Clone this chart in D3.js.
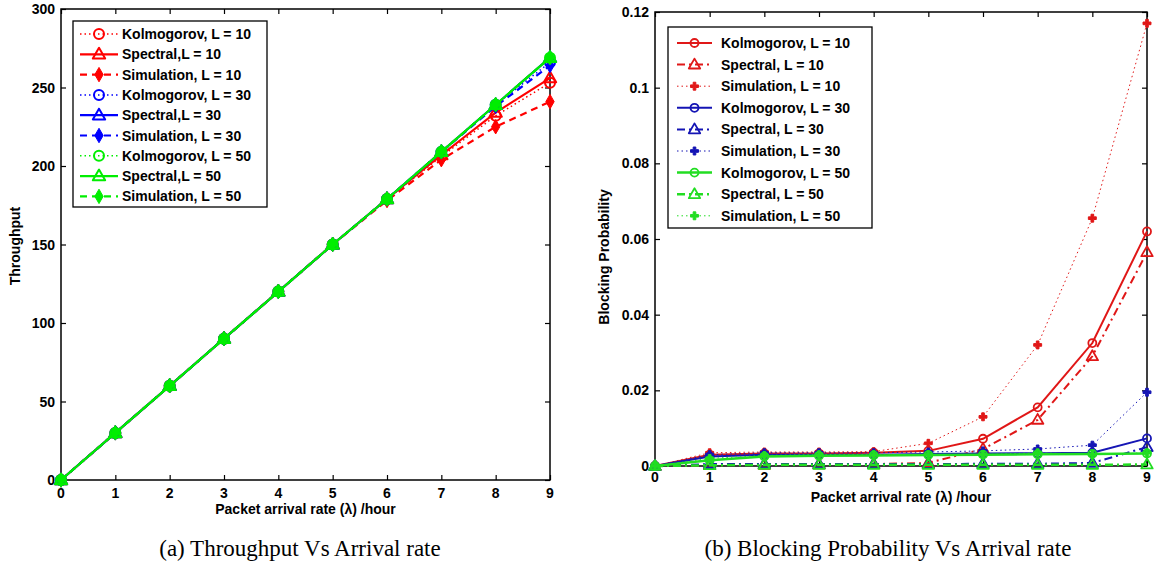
<!DOCTYPE html>
<html>
<head>
<meta charset="utf-8">
<script src="https://cdn.jsdelivr.net/npm/d3@7"></script>
<style>
  html, body { margin: 0; padding: 0; background: #fff; }
  svg { display: block; }
  .tick-label { font-family: "Liberation Sans", Arial, sans-serif; font-weight: bold; font-size: 14px; fill: #000; }
  .axis-title { font-family: "Liberation Sans", Arial, sans-serif; font-weight: bold; font-size: 14px; fill: #000; }
  .legend-text { font-family: "Liberation Sans", Arial, sans-serif; font-weight: bold; font-size: 14px; fill: #000; }
  .caption { font-family: "Liberation Serif", "DejaVu Serif", serif; font-size: 23px; fill: #000; }
</style>
</head>
<body>
<svg id="chart" width="1165" height="566"></svg>
<script>
// Arrival rate (packets per hour) shared by both panels
const arrivalRate = [0, 1, 2, 3, 4, 5, 6, 7, 8, 9];

// Panel (a): throughput
const thrKolmogorov10 = [0, 30, 60, 90, 120, 150, 179, 206, 232, 253];
const thrSpectral10   = [0, 30, 60, 90, 120, 150, 179, 207, 234, 256];
const thrSimulation10 = [0, 30, 60, 90, 120, 150, 178, 204, 225, 241];
const thrKolmogorov30 = [0, 30, 60, 90, 120, 150, 179, 209, 239, 266];
const thrSpectral30   = [0, 30, 60, 90, 120, 150, 179, 209, 239, 269];
const thrSimulation30 = [0, 30, 60, 90, 120, 150, 179, 209, 238, 264];
const thrKolmogorov50 = [0, 30, 60, 90, 120, 150, 179, 209, 239, 269];
const thrSpectral50   = [0, 30, 60, 90, 120, 150, 179, 209, 239, 269];
const thrSimulation50 = [0, 30, 60, 90, 120, 150, 179, 209, 239, 269];

// Panel (b): blocking probability
const bpKolmogorov10 = [0, 0.0030, 0.0033, 0.0033, 0.0035, 0.0040, 0.0072, 0.0155, 0.0325, 0.0620];
const bpSpectral10   = [0, 0.0002, 0.0003, 0.0004, 0.0005, 0.0008, 0.0045, 0.0122, 0.0290, 0.0565];
const bpSimulation10 = [0, 0.0035, 0.0037, 0.0037, 0.0038, 0.0060, 0.0130, 0.0320, 0.0655, 0.1170];
const bpKolmogorov30 = [0, 0.0025, 0.0030, 0.0030, 0.0030, 0.0032, 0.0033, 0.0034, 0.0035, 0.0073];
const bpSpectral30   = [0, 0.0005, 0.0005, 0.0005, 0.0005, 0.0005, 0.0006, 0.0006, 0.0008, 0.0050];
const bpSimulation30 = [0, 0.0030, 0.0035, 0.0035, 0.0035, 0.0037, 0.0040, 0.0045, 0.0055, 0.0195];
const bpKolmogorov50 = [0, 0.0015, 0.0025, 0.0027, 0.0028, 0.0029, 0.0030, 0.0031, 0.0032, 0.0033];
const bpSpectral50   = [0, 0.0002, 0.0003, 0.0003, 0.0003, 0.0003, 0.0003, 0.0003, 0.0003, 0.0004];
const bpSimulation50 = [0, 0.0020, 0.0028, 0.0030, 0.0030, 0.0030, 0.0030, 0.0035, 0.0030, 0.0035];

// Tick labels
const xTickLabels = ["0", "1", "2", "3", "4", "5", "6", "7", "8", "9"];
const thrTickValues = [0, 50, 100, 150, 200, 250, 300];
const thrTickLabels = ["0", "50", "100", "150", "200", "250", "300"];
const bpTickValues = [0, 0.02, 0.04, 0.06, 0.08, 0.1, 0.12];
const bpTickLabels = ["0", "0.02", "0.04", "0.06", "0.08", "0.1", "0.12"];

// Legend labels
const thrLegend = ["Kolmogorov, L = 10", "Spectral,L = 10", "Simulation, L = 10",
                   "Kolmogorov, L = 30", "Spectral,L = 30", "Simulation, L = 30",
                   "Kolmogorov, L = 50", "Spectral,L = 50", "Simulation, L = 50"];
const bpLegend = ["Kolmogorov, L = 10", "Spectral, L = 10", "Simulation, L = 10",
                  "Kolmogorov, L = 30", "Spectral, L = 30", "Simulation, L = 30",
                  "Kolmogorov, L = 50", "Spectral, L = 50", "Simulation, L = 50"];

const svg = d3.select("#chart");

function drawMarker(g, type, cx, cy, color, st) {
  if (type === "circle") {
    g.append("circle").attr("cx", cx).attr("cy", cy).attr("r", st.circleR)
      .attr("fill", "none").attr("stroke", color).attr("stroke-width", st.markerStroke);
  } else if (type === "triangle") {
    const s = st.triSize;
    const pts = [[cx, cy - s], [cx - s * 0.95, cy + s * 0.65], [cx + s * 0.95, cy + s * 0.65]];
    g.append("path").attr("d", "M" + pts.map(p => p.join(",")).join("L") + "Z")
      .attr("fill", "none").attr("stroke", color).attr("stroke-width", st.markerStroke)
      .attr("stroke-linejoin", "round");
  } else if (type === "dot") {
    g.append("path").attr("transform", `translate(${cx},${cy})`)
      .attr("d", d3.symbol().type(st.dotSymbol).size(st.dotSize)())
      .attr("fill", color).attr("stroke", color).attr("stroke-width", 1);
  }
}

function drawPanel(p) {
  const x = d3.scaleLinear().domain([0, 9]).range([p.left, p.right]);
  const y = d3.scaleLinear().domain(p.yDomain).range([p.bottom, p.top]);
  const g = svg.append("g");

  // frame with inward ticks on all four sides
  g.append("rect").attr("x", p.left).attr("y", p.top)
    .attr("width", p.right - p.left).attr("height", p.bottom - p.top)
    .attr("fill", "none").attr("stroke", "#000").attr("stroke-width", 1.5);

  const tl = 5;
  const xb = d3.axisBottom(x).tickValues(arrivalRate).tickSizeInner(-tl).tickSizeOuter(0).tickFormat("");
  const xt = d3.axisTop(x).tickValues(arrivalRate).tickSizeInner(-tl).tickSizeOuter(0).tickFormat("");
  const yl = d3.axisLeft(y).tickValues(p.yTicks).tickSizeInner(-tl).tickSizeOuter(0).tickFormat("");
  const yr = d3.axisRight(y).tickValues(p.yTicks).tickSizeInner(-tl).tickSizeOuter(0).tickFormat("");
  [[xb, `translate(0,${p.bottom})`], [xt, `translate(0,${p.top})`],
   [yl, `translate(${p.left},0)`], [yr, `translate(${p.right},0)`]].forEach(([ax, tr]) => {
    const a = g.append("g").attr("transform", tr).call(ax);
    a.select(".domain").remove();
    a.selectAll("line").attr("stroke", "#000").attr("stroke-width", 1.2);
  });

  // tick labels
  g.selectAll(".xl").data(arrivalRate).enter().append("text")
    .attr("class", "tick-label").attr("x", d => x(d)).attr("y", p.bottom + p.xLabelDy)
    .attr("text-anchor", "middle").text((d, i) => xTickLabels[i]);
  g.selectAll(".yl").data(p.yTicks).enter().append("text")
    .attr("class", "tick-label").attr("x", p.left - 6).attr("y", d => y(d) + 5)
    .attr("text-anchor", "end").text((d, i) => p.yLabels[i]);

  // axis titles
  g.append("text").attr("class", "axis-title")
    .attr("x", (p.left + p.right) / 2).attr("y", p.bottom + p.xTitleDy)
    .attr("text-anchor", "middle").text("Packet arrival rate (\u03bb) /hour");
  g.append("text").attr("class", "axis-title")
    .attr("transform", `translate(${p.yTitleX},${p.yTitleY}) rotate(-90)`)
    .attr("text-anchor", "middle").text(p.yTitle);

  // series
  const line = d3.line().x((d, i) => x(arrivalRate[i])).y(d => y(d));
  const plot = g.append("g").attr("filter", p.filter || null);
  p.series.forEach(s => {
    plot.append("path").datum(s.values).attr("d", line)
      .attr("fill", "none").attr("stroke", s.color).attr("stroke-width", s.width)
      .attr("stroke-dasharray", s.dash).attr("stroke-linecap", s.cap || "butt");
    s.values.forEach((v, i) => drawMarker(plot, s.marker, x(arrivalRate[i]), y(v), s.color, p.style));
  });

  // legend
  const lg = g.append("g");
  lg.append("rect").attr("x", p.legend.x).attr("y", p.legend.y)
    .attr("width", p.legend.w).attr("height", p.legend.h)
    .attr("fill", "#fff").attr("stroke", "#000").attr("stroke-width", 1.3);
  p.series.forEach((s, i) => {
    const cy = p.legend.y + p.legend.first + i * p.legend.step;
    lg.append("line").attr("x1", p.legend.x + p.legend.lx1).attr("x2", p.legend.x + p.legend.lx2)
      .attr("y1", cy).attr("y2", cy).attr("stroke", s.color).attr("stroke-width", s.width)
      .attr("stroke-dasharray", s.dash).attr("stroke-linecap", s.cap || "butt");
    drawMarker(lg, s.marker, p.legend.x + (p.legend.lx1 + p.legend.lx2) / 2, cy, s.color, p.style);
    lg.append("text").attr("class", "legend-text").attr("x", p.legend.x + p.legend.tx)
      .attr("y", cy + 5).text(p.legendLabels[i]);
  });

  // caption
  svg.append("text").attr("class", "caption").attr("x", p.captionX).attr("y", 556)
    .attr("text-anchor", "middle").text(p.caption);
}

// soft rendering of panel (b)
const defs = svg.append("defs");
defs.append("filter").attr("id", "soft").append("feGaussianBlur").attr("stdDeviation", 0.5);

const R = "#ff0000", B = "#0000ff", G = "#00ee00";
drawPanel({
  left: 61, right: 550, top: 9, bottom: 480,
  yDomain: [0, 300], yTicks: thrTickValues, yLabels: thrTickLabels,
  xLabelDy: 18, xTitleDy: 34, yTitle: "Throughput", yTitleX: 20, yTitleY: 246,
  style: { circleR: 5, triSize: 6.5, markerStroke: 2, dotSymbol: d3.symbolDiamond, dotSize: 60 },
  series: [
    { values: thrKolmogorov10, color: R, width: 1.5, dash: "1.5,3", marker: "circle" },
    { values: thrSpectral10,   color: R, width: 2.2, dash: null, marker: "triangle" },
    { values: thrSimulation10, color: R, width: 2.2, dash: "7,5", marker: "dot" },
    { values: thrKolmogorov30, color: B, width: 1.5, dash: "1.5,3", marker: "circle" },
    { values: thrSpectral30,   color: B, width: 2.2, dash: null, marker: "triangle" },
    { values: thrSimulation30, color: B, width: 2.2, dash: "7,5", marker: "dot" },
    { values: thrKolmogorov50, color: G, width: 1.5, dash: "1.5,3", marker: "circle" },
    { values: thrSpectral50,   color: G, width: 2.2, dash: null, marker: "triangle" },
    { values: thrSimulation50, color: G, width: 2.2, dash: "7,5", marker: "dot" }
  ],
  legendLabels: thrLegend,
  legend: { x: 73, y: 21, w: 194, h: 186, first: 13, step: 20.3, lx1: 7, lx2: 45, tx: 49 },
  caption: "(a) Throughput Vs Arrival rate", captionX: 300
});

drawPanel({
  left: 655, right: 1147, top: 12, bottom: 466,
  yDomain: [0, 0.12], yTicks: bpTickValues, yLabels: bpTickLabels,
  xLabelDy: 16, xTitleDy: 36, yTitle: "Blocking Probability", yTitleX: 609, yTitleY: 257,
  style: { circleR: 4, triSize: 6, markerStroke: 1.8, dotSymbol: d3.symbolCross, dotSize: 35 },
  filter: "url(#soft)",
  series: [
    { values: bpKolmogorov10, color: "#e01818", width: 2, dash: null, marker: "circle" },
    { values: bpSpectral10,   color: "#e01818", width: 2, dash: "8,4,2,4", marker: "triangle" },
    { values: bpSimulation10, color: "#e01818", width: 1, dash: "1.5,3", marker: "dot" },
    { values: bpKolmogorov30, color: "#1414b4", width: 2, dash: null, marker: "circle" },
    { values: bpSpectral30,   color: "#1414b4", width: 2, dash: "8,4,2,4", marker: "triangle" },
    { values: bpSimulation30, color: "#1414b4", width: 1, dash: "1.5,3", marker: "dot" },
    { values: bpKolmogorov50, color: "#22dd22", width: 2.5, dash: null, marker: "circle" },
    { values: bpSpectral50,   color: "#22dd22", width: 2.5, dash: "8,4,2,4", marker: "triangle" },
    { values: bpSimulation50, color: "#22dd22", width: 1, dash: "1.5,3", marker: "dot" }
  ],
  legendLabels: bpLegend,
  legend: { x: 668, y: 27, w: 204, h: 201, first: 16, step: 21.6, lx1: 9, lx2: 44, tx: 53 },
  caption: "(b) Blocking Probability Vs Arrival rate", captionX: 888
});
</script>
</body>
</html>
